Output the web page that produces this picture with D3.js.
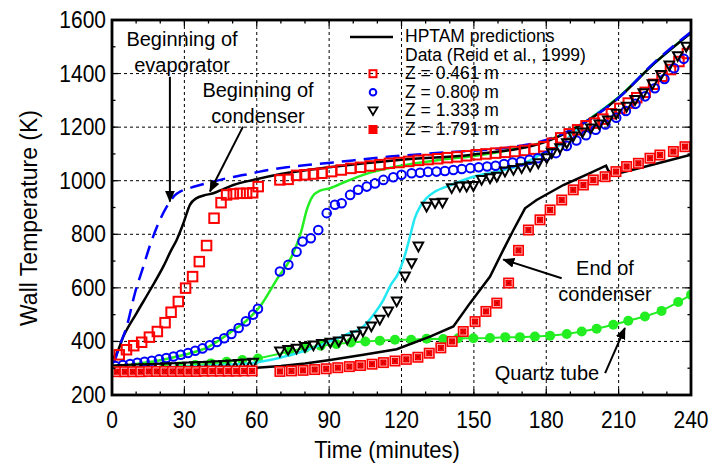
<!DOCTYPE html>
<html><head><meta charset="utf-8">
<script src="https://cdn.jsdelivr.net/npm/d3@7"></script>
<style>body{margin:0;background:#fff} text{font-family:"Liberation Sans",Arial,Helvetica,sans-serif;fill:#000}</style>
</head><body><svg id="c" width="712" height="464"></svg>
<script>
const xTicks=[0,30,60,90,120,150,180,210,240];
const yTicks=[200,400,600,800,1000,1200,1400,1600];
const xMinor=[10,20,40,50,70,80,100,110,130,140,160,170,190,200,220,230];
const yMinor=[300,500,700,900,1100,1300,1500];

// HPTAM predictions [time (min), temperature (K)]
const predEvapBegin=[[0,318],[1.2,331],[3,380],[6.1,456],[9.5,580],[13,680],[15.8,760],[19.9,854],[24,922],[26,945],[28.2,959],[32,972],[36.5,984],[42,997],[47.5,1009],[55,1022],[61.3,1034],[72.4,1050],[91.7,1068],[115,1090],[138.7,1106],[165,1125],[180,1152],[195.4,1215],[210.6,1314],[224.4,1438],[240,1555]];
const predZ0461=[[0,335],[2,356],[4.7,418],[10.2,506],[15.8,592],[21.3,680],[24.5,740],[26.8,779],[29.6,841],[32.3,910],[35.1,935],[38,945],[42,953],[46,968],[50.3,984],[58.6,1003],[70,1025],[90,1050],[120,1078],[150,1098],[180,1146],[195,1212],[210,1310],[225,1440],[240,1552]];
const predZ0800=[[0,302],[10,316],[20,330],[30,350],[40,380],[50,440],[56,480],[61.3,530],[68.2,630],[75.1,729],[78.6,816],[80.7,890],[83,940],[86,962],[90.4,972],[97,997],[104.2,1022],[118,1053],[136,1078],[150,1092],[165,1115],[180,1148],[195,1213],[210,1312],[225,1440],[240,1553]];
const predZ1333=[[0,296],[20,302],[40,310],[60,322],[70,340],[80,365],[90.4,400],[97,425],[104.2,456],[108,495],[112.5,555],[115.5,610],[118.7,655],[121,710],[123.5,791],[125.5,860],[127.7,903],[130.4,935],[134,960],[138.7,978],[149.8,1015],[159.5,1034],[167.8,1053],[178.8,1103],[185,1130],[195,1210],[210,1312],[225,1440],[240,1553]];
const predZ1791=[[0,290],[30,294],[60,302],[70,308],[80,318],[90.4,331],[104.2,350],[118,371],[131.8,418],[141.5,456],[148.4,543],[156.7,642],[162.2,742],[166.4,816],[171.2,897],[176,928],[187.1,984],[198.1,1028],[204.8,1056],[205.6,1040],[207.5,1022],[220,1050],[240,1097]];

// Data (Reid et al., 1999)
const dataZ0461=[[3,350],[6,369],[9,384],[12.3,397],[15.5,416],[18.8,437],[22,470],[24.5,509],[27.5,549],[30.5,599],[33.4,642],[36.2,698],[39.2,758],[42.3,860],[45.2,918],[47.5,947],[50.3,951],[53.1,953],[55.8,953],[58.3,955],[60.6,978],
[69.6,1003],[73,1005],[76.5,1020],[80,1022],[83.5,1025],[87,1028],[91,1034],[95,1040],[99,1046],[103,1050],[107,1055],[111,1060],[115,1065],[119,1068],[123,1072],[127,1076],[131,1079],[135,1082],[139,1086],[143,1089],[147,1093],[151,1097],[155,1100],[159,1103],[163,1106],[167,1109],[171,1113],[175,1118],[179,1127],
[182.5,1140],[186,1160],[189.5,1175],[193,1190],[196.5,1205],[200,1215],[203.5,1230],[207,1250],[210.5,1270],[214,1290],[217.5,1310],[221,1330],[224.5,1360],[228,1390],[231.5,1415],[235,1445],[238.5,1475]];
const dataZ0800=[[1.5,308],[4.5,312],[7.5,316],[10.5,320],[13.5,324],[16.5,328],[19.5,333],[22.5,338],[25.5,344],[28.5,350],[31.5,357],[34.5,365],[37.5,374],[40.5,386],[43.5,398],[46.5,412],[49.5,428],[52.5,450],[55.5,475],[58.5,500],[60.5,522],
[69.6,661],[73.1,686],[76.5,735],[79,773],[82.4,785],[85.5,816],[89,879],[92.4,910],[95.2,916],[98.7,947],[102,966],[105.6,978],[109,990],[112.5,1003],[116.6,1013],[120,1022],[124.2,1028],[127.7,1030],[131,1033],[134.5,1034],[138,1036],[141.5,1040],[145,1044],[148.5,1047],[152,1050],[155.5,1053],[159,1056],[162.5,1062],[166,1068],[169.5,1072],[173,1078],[176.5,1084],[180,1092],[184,1103],[188.5,1130],[192.5,1150],[196.5,1170],[200.5,1190],[204.5,1210],[209,1235],[213,1260],[217,1287],[221,1315],[225,1345],[229,1380],[233,1420],[237,1455]];
const dataZ1333=[[1.5,296],[4.5,297],[7.5,298],[10.5,299],[13.5,300],[16.5,301],[19.5,302],[22.5,303],[25.5,304],[28.5,305],[31.5,306],[34.5,307],[37.5,308],[40.5,309],[43.5,311],[46.5,312],[49.5,314],[52.5,316],[55.5,318],[58.5,320],
[69.6,362],[73,368],[76.5,373],[80,379],[83.5,385],[87,390],[90.5,395],[94,400],[97.5,408],[101,422],[104,437],[107.5,456],[111,481],[114.5,512],[118,549],[121.5,642],[124.2,692],[127,754],[130.4,903],[133.9,916],[137,918],[140.8,972],[144.2,978],[147,978],[149.8,980],[153.2,1003],[156.7,1009],[159.5,1015],[162.9,1034],[166.4,1040],[169.8,1047],[173.3,1053],[176.7,1065],[180.2,1084],[182.3,1103],[185.7,1121],[188.5,1140],[191.2,1165],[195,1180],[198.5,1195],[202,1210],[205.5,1225],[209,1250],[213.3,1276],[216.8,1301],[220.2,1327],[224,1360],[227.5,1395],[231,1430],[234.5,1465],[238,1500]];
const dataZ1791=[[2,287],[5.3,287],[8.6,287],[11.9,287],[15.2,288],[18.5,288],[21.8,288],[25.1,288],[28.4,288],[31.7,288],[35,288],[38.3,289],[41.6,289],[44.9,289],[48.2,289],[51.5,289],[54.8,290],[58.1,290],
[69.6,288],[74.4,290],[79.2,292],[84,295],[88.8,298],[93.6,302],[98.4,306],[103,310],[107.8,315],[112.5,321],[117.3,327],[122,333],[126.8,341],[131.5,356],[136.3,376],[141,400],[145.6,437],[150.5,474],[155,512],[159.5,543],[164.4,618],[168.5,740],[172.6,816],[177.4,854],[181.6,891],[186.4,928],[191.2,966],[195.4,984],[199.5,1003],[204.4,1015],[208.9,1034],[213.3,1053],[218.2,1065],[223,1084],[227.1,1096],[232.7,1109],[237.5,1127]];
const quartzTube=[[2,292],[8.5,295],[15,298],[21.5,302],[28,306],[34.5,312],[41,318],[47.5,324],[54,331],[60.5,336],[73.5,362],[80,376],[86.5,384],[93,390],[99,396],[105,400],[111,403],[117.3,406],[124,406],[130.4,410],[137.3,409],[143.5,412],[149.8,412],[156.7,413],[163,416],[169.1,416],[175.3,418],[181.6,421],[188.5,428],[194.7,437],[200.9,447],[207.8,462],[214,477],[220.9,493],[227.8,514],[234.7,547],[240,574]];

const legendLabels=["HPTAM predictions","Data (Reid et al., 1999)","Z = 0.461 m","Z = 0.800 m","Z = 1.333 m","Z = 1.791 m"];

const svg=d3.select("#c");
const x=d3.scaleLinear().domain([0,240]).range([112,691]);
const y=d3.scaleLinear().domain([200,1600]).range([395,20]);
const RED="#ff0000",BLUE="#0000ff",GREEN="#22ee22",CYAN="#22e8f4";

const defs=svg.append("defs");
defs.append("clipPath").attr("id","clip").append("rect").attr("x",112).attr("y",20).attr("width",579).attr("height",375);
defs.append("marker").attr("id","arr").attr("viewBox","0 0 12 10").attr("refX",11).attr("refY",5)
 .attr("markerWidth",12).attr("markerHeight",10).attr("markerUnits","userSpaceOnUse").attr("orient","auto")
 .append("path").attr("d","M0,0L12,5L0,10z").attr("fill","#000");

// grid
const g=svg.append("g");
g.selectAll(".gx").data(xTicks.slice(1,-1)).join("line").attr("x1",d=>x(d)).attr("x2",d=>x(d)).attr("y1",y(200)).attr("y2",y(1600))
 .attr("stroke","#000").attr("stroke-width",1).attr("stroke-dasharray","3,3");
g.selectAll(".gy").data(yTicks.slice(1,-1)).join("line").attr("y1",d=>y(d)).attr("y2",d=>y(d)).attr("x1",x(0)).attr("x2",x(240))
 .attr("stroke","#000").attr("stroke-width",1).attr("stroke-dasharray","3,3");

const plot=svg.append("g").attr("clip-path","url(#clip)");
const line=d3.line().x(d=>x(d[0])).y(d=>y(d[1])).curve(d3.curveMonotoneX);
const lineL=d3.line().x(d=>x(d[0])).y(d=>y(d[1]));

// quartz tube
plot.append("path").attr("d",lineL(quartzTube)).attr("fill","none").attr("stroke",GREEN).attr("stroke-width",2);
plot.selectAll(".qt").data(quartzTube).join("circle").attr("cx",d=>x(d[0])).attr("cy",d=>y(d[1])).attr("r",5).attr("fill",GREEN);

// predictions
plot.append("path").attr("d",line(predZ1333)).attr("fill","none").attr("stroke",CYAN).attr("stroke-width",2.5);
plot.append("path").attr("d",line(predZ0800)).attr("fill","none").attr("stroke",GREEN).attr("stroke-width",2.5);
plot.append("path").attr("d",lineL(predZ1791)).attr("fill","none").attr("stroke","#000").attr("stroke-width",2.5);
plot.append("path").attr("d",line(predZ0461)).attr("fill","none").attr("stroke","#000").attr("stroke-width",2.5);
plot.append("path").attr("d",line(predEvapBegin)).attr("fill","none").attr("stroke",BLUE).attr("stroke-width",2.5).attr("stroke-dasharray","14,8");

// markers
function sq(sel,data,s){sel.selectAll(null).data(data).join("rect").attr("x",d=>x(d[0])-s/2).attr("y",d=>y(d[1])-s/2).attr("width",s).attr("height",s)
 .attr("fill","none").attr("stroke",RED).attr("stroke-width",2);}
function circ(sel,data,r){sel.selectAll(null).data(data).join("circle").attr("cx",d=>x(d[0])).attr("cy",d=>y(d[1])).attr("r",r)
 .attr("fill","none").attr("stroke",BLUE).attr("stroke-width",2);}
function tri(sel,data,s){sel.selectAll(null).data(data).join("path").attr("transform",d=>`translate(${x(d[0])},${y(d[1])})`)
 .attr("d",`M${-s/2},${-s*0.42}L${s/2},${-s*0.42}L0,${s*0.5}Z`).attr("fill","none").attr("stroke","#000").attr("stroke-width",2);}
function xsq(sel,data,s){const gg=sel.selectAll(null).data(data).join("g").attr("transform",d=>`translate(${x(d[0])},${y(d[1])})`);
 gg.append("rect").attr("x",-s/2).attr("y",-s/2).attr("width",s).attr("height",s).attr("fill",RED);
 gg.append("rect").attr("x",-s/2+2).attr("y",-s/2+2).attr("width",s-4).attr("height",s-4).attr("fill","none").attr("stroke","#ffd0d0").attr("stroke-width",0.8);
 gg.append("path").attr("d",`M${-s/2+3},${-s/2+3}L${s/2-3},${s/2-3}M${s/2-3},${-s/2+3}L${-s/2+3},${s/2-3}`).attr("stroke","#600").attr("stroke-width",0.8).attr("stroke-dasharray","1,1");}
sq(plot.append("g"),dataZ0461,9.5);
circ(plot.append("g"),dataZ0800,4.3);
tri(plot.append("g"),dataZ1333,9.5);
xsq(plot.append("g"),dataZ1791,11);

// frame + ticks
svg.append("rect").attr("x",x(0)).attr("y",y(1600)).attr("width",x(240)-x(0)).attr("height",y(200)-y(1600)).attr("fill","none").attr("stroke","#000").attr("stroke-width",2.8);
const tk=svg.append("g").attr("stroke","#000").attr("stroke-width",1.3);
xTicks.concat(xMinor).forEach(t=>{const L=xTicks.includes(t)?6:3.5;
 tk.append("line").attr("x1",x(t)).attr("x2",x(t)).attr("y1",y(200)).attr("y2",y(200)-L);
 tk.append("line").attr("x1",x(t)).attr("x2",x(t)).attr("y1",y(1600)).attr("y2",y(1600)+L);});
yTicks.concat(yMinor).forEach(v=>{const L=yTicks.includes(v)?6:3.5;
 tk.append("line").attr("y1",y(v)).attr("y2",y(v)).attr("x1",x(0)).attr("x2",x(0)+L);
 tk.append("line").attr("y1",y(v)).attr("y2",y(v)).attr("x1",x(240)).attr("x2",x(240)-L);});

svg.selectAll(".xl").data(xTicks).join("text").attr("transform",d=>`translate(${x(d)},428) scale(1,1.1)`).attr("text-anchor","middle").attr("font-size",21).text(d=>d);
svg.selectAll(".yl").data(yTicks).join("text").attr("transform",d=>`translate(106,${y(d)+8}) scale(1,1.1)`).attr("text-anchor","end").attr("font-size",21).text(d=>d);
svg.append("text").attr("transform","translate(387,458) scale(1,1.08)").attr("text-anchor","middle").attr("font-size",22).text("Time (minutes)");
svg.append("text").attr("transform","translate(37,218) rotate(-90)").attr("text-anchor","middle").attr("font-size",23).text("Wall Temperature (K)");

// legend
const lg=svg.append("g");
lg.append("line").attr("x1",350).attr("x2",393).attr("y1",37).attr("y2",37).attr("stroke","#000").attr("stroke-width",2.5);
legendLabels.forEach((t,i)=>lg.append("text").attr("x",405).attr("y",42+i*18.6).attr("font-size",17.5).text(t));
const ly=i=>42+i*18.6-5.5;
lg.append("rect").attr("x",369.5).attr("y",ly(2)-3.5).attr("width",7).attr("height",7).attr("fill","none").attr("stroke",RED).attr("stroke-width",2);
lg.append("circle").attr("cx",373).attr("cy",ly(3)).attr("r",3.3).attr("fill","none").attr("stroke",BLUE).attr("stroke-width",2);
lg.append("path").attr("d",`M368.5,${ly(4)-3.5}L377.5,${ly(4)-3.5}L373,${ly(4)+4}Z`).attr("fill","none").attr("stroke","#000").attr("stroke-width",1.8);
lg.append("rect").attr("x",368.5).attr("y",ly(5)-4.5).attr("width",9).attr("height",9).attr("fill",RED);

// annotations
const an=svg.append("g");
function ann(lines,cx,by,fs){lines.forEach((t,i)=>an.append("text").attr("x",cx).attr("y",by+i*26).attr("text-anchor","middle").attr("font-size",fs).text(t));}
function arrow(a,b){an.append("line").attr("x1",x(a[0])).attr("y1",y(a[1])).attr("x2",x(b[0])).attr("y2",y(b[1])).attr("stroke","#000").attr("stroke-width",2).attr("marker-end","url(#arr)");}
ann(["Beginning of","evaporator"],182,46,20);
arrow([24,1388],[24,922]);
ann(["Beginning of","condenser"],258,97,20);
arrow([54.3,1202],[40.6,960]);
ann(["End of","condenser"],605,275,20);
arrow([186.4,636],[162.2,706]);
ann(["Quartz tube"],547,380,20);
arrow([204.4,282],[212.6,450]);
</script></body></html>
